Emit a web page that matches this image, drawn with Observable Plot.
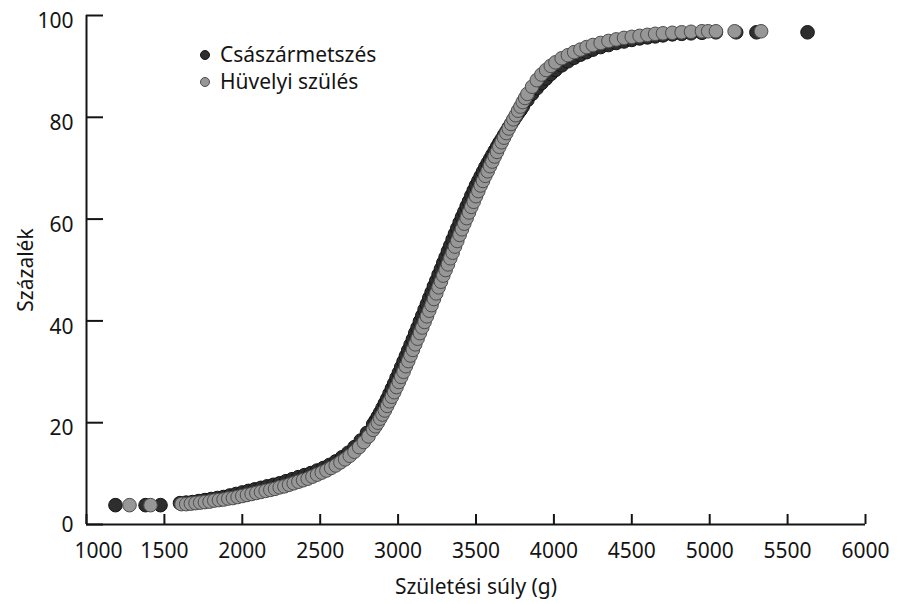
<!DOCTYPE html>
<html><head><meta charset="utf-8">
<script src="https://cdn.jsdelivr.net/npm/d3@7"></script>
<script src="https://cdn.jsdelivr.net/npm/@observablehq/plot@0.6"></script>
<style>
body{margin:0;background:#fff;}
#wrap{position:relative;width:907px;height:604px;font-family:"Noto Sans",sans-serif;}
#wrap svg{display:block;}
#legend{position:absolute;left:200px;top:41px;font-size:21px;line-height:27px;color:#141414;}
.row{display:flex;align-items:center;white-space:nowrap;}
.sw{width:10px;height:10px;border-radius:50%;margin-right:10px;box-sizing:border-box;}
</style></head>
<body><div id="wrap"><div id="legend"></div></div>
<script>
const seriesNames = ["Császármetszés", "Hüvelyi szülés"];
const xTicks = [1000,1500,2000,2500,3000,3500,4000,4500,5000,5500,6000];
const yTicks = [0,20,40,60,80,100];

// Császármetszés (dark)
const csWeight = [1186,1379,1475,1600,1640,1680,1720,1760,1800,1840,1880,1920,1960,2000,2040,2080,2120,2160,2200,2240,2280,2320,2360,2400,2440,2480,2520,2560,2600,2640,2680,2720,2760,2800,
2840,2855,2870,2885,2900,2915,2930,2945,2960,2975,2990,3005,3020,3035,3050,3065,3080,3095,3110,3125,3140,3155,3170,3185,3200,3215,3230,3245,3260,3275,3290,3305,3320,3335,3350,3365,3380,3395,3410,3425,3440,3455,3470,3485,3500,3515,3530,3545,3560,3575,3590,3605,3620,3635,3650,3665,3680,3695,3710,3725,3740,3755,3770,3785,3800,
3830,3860,3890,3920,3950,3980,4010,4050,4090,4130,4170,4210,4250,4300,4350,4400,4450,4500,4550,4600,4650,4700,4760,4820,4880,4950,5040,5170,5300,5628];
const csPercent = [3.8,3.8,3.8,4.2,4.3,4.4,4.6,4.8,5.0,5.2,5.4,5.7,6.0,6.3,6.6,6.9,7.2,7.5,7.8,8.1,8.5,8.9,9.3,9.7,10.1,10.6,11.1,11.7,12.4,13.2,14.1,15.2,16.5,18.0,
19.7,20.4,21.2,22.0,22.9,23.8,24.7,25.7,26.7,27.7,28.8,29.8,30.9,32.0,33.1,34.2,35.3,36.4,37.6,38.7,39.9,41.0,42.2,43.3,44.5,45.6,46.8,47.9,49.1,50.2,51.4,52.5,53.7,54.8,56.0,57.1,58.2,59.3,60.4,61.4,62.5,63.5,64.6,65.6,66.6,67.5,68.4,69.3,70.2,71.0,71.8,72.6,73.4,74.2,75.0,75.7,76.5,77.2,78.0,78.7,79.4,80.1,80.8,81.4,82.1,
83.4,84.6,85.7,86.7,87.6,88.5,89.3,90.2,91.0,91.7,92.3,92.8,93.3,93.8,94.2,94.6,94.9,95.2,95.5,95.7,95.9,96.1,96.3,96.4,96.5,96.6,96.7,96.7,96.7,96.7];

// Hüvelyi szülés (gray)
const vgWeight = [1276,1411,1610,1640,1670,1700,1730,1760,1790,1820,1850,1880,1910,1940,1970,2000,2030,2060,2090,2120,2150,2180,2210,2240,2270,2300,2330,2360,2390,2420,2450,2480,2510,2540,2570,2600,2630,2660,2690,2720,2750,2780,2810,
2840,2855,2870,2885,2900,2915,2930,2945,2960,2975,2990,3005,3020,3035,3050,3065,3080,3095,3110,3125,3140,3155,3170,3185,3200,3215,3230,3245,3260,3275,3290,3305,3320,3335,3350,3365,3380,3395,3410,3425,3440,3455,3470,3485,3500,3515,3530,3545,3560,3575,3590,3605,3620,3635,3650,3665,3680,3695,3710,3725,3740,3755,3770,3785,3800,3815,3830,
3860,3890,3920,3950,3980,4010,4050,4090,4130,4170,4210,4250,4300,4350,4400,4450,4500,4550,4600,4650,4700,4760,4820,4880,4950,4990,5040,5160,5330];
const vgPercent = [3.8,3.8,4.0,4.0,4.1,4.2,4.3,4.4,4.5,4.7,4.8,4.9,5.1,5.2,5.4,5.6,5.8,6.0,6.2,6.4,6.6,6.8,7.0,7.3,7.5,7.8,8.1,8.4,8.7,9.0,9.4,9.8,10.2,10.6,11.1,11.6,12.2,12.8,13.5,14.3,15.2,16.2,17.3,
18.6,19.3,20.0,20.8,21.6,22.4,23.3,24.2,25.1,26.0,27.0,28.0,29.0,30.0,31.1,32.1,33.2,34.3,35.4,36.5,37.6,38.7,39.8,40.9,42.0,43.1,44.3,45.4,46.6,47.7,48.9,50.0,51.1,52.3,53.4,54.6,55.7,56.9,58.0,59.1,60.2,61.3,62.4,63.4,64.5,65.5,66.6,67.5,68.5,69.4,70.4,71.3,72.3,73.2,74.2,75.1,76.0,76.9,77.8,78.7,79.6,80.4,81.3,82.1,83.0,83.8,84.6,
86.0,87.3,88.4,89.3,90.1,90.8,91.6,92.2,92.8,93.3,93.8,94.2,94.6,95.0,95.3,95.6,95.8,96.0,96.2,96.4,96.5,96.6,96.7,96.8,96.9,96.9,96.9,96.9,96.9];

const csData = csWeight.map((w, i) => ({w, p: csPercent[i]})).filter(d => d.p != null);
const vgData = vgWeight.map((w, i) => ({w, p: vgPercent[i]})).filter(d => d.p != null);

const darkFill = "#2e2e2e", darkStroke = "#151515";
const grayFill = "#979797", grayStroke = "#4d4d4d";
const ink = "#141414";

const plot = Plot.plot({
  width: 907, height: 604,
  marginLeft: 86, marginRight: 42, marginTop: 15, marginBottom: 80,
  style: {fontFamily: '"Noto Sans", sans-serif', fontSize: "21px", color: ink, background: "#fff"},
  x: {domain: [xTicks[0], xTicks[xTicks.length - 1]]},
  y: {domain: [yTicks[0], yTicks[yTicks.length - 1]]},
  marks: [
    Plot.dot(csData, {x: "w", y: "p", r: 6.8, fill: darkFill, stroke: darkStroke, strokeWidth: 1}),
    Plot.dot(vgData, {x: "w", y: "p", r: 6.8, fill: grayFill, stroke: grayStroke, strokeWidth: 1}),
    Plot.ruleX([xTicks[0]], {stroke: ink, strokeWidth: 2}),
    Plot.ruleY([yTicks[0]], {stroke: ink, strokeWidth: 2}),
    Plot.axisX(xTicks, {tickSize: -10, fill: "none", stroke: ink, strokeWidth: 2, label: null}),
    Plot.axisX(xTicks.slice(1), {tickSize: 0, tickPadding: 19, tickFormat: d => String(d), fill: ink,
      label: "Születési súly (g)", labelAnchor: "center", labelOffset: 69, labelArrow: "none"}),
    Plot.axisX(xTicks.slice(0, 1), {tickSize: 0, tickPadding: 19, dx: 12, tickFormat: d => String(d), fill: ink, label: null}),
    Plot.axisY(yTicks, {tickSize: -17, fill: "none", stroke: ink, strokeWidth: 2, label: null}),
    Plot.axisY(yTicks.slice(1), {tickSize: 0, tickPadding: 13, dy: 6, tickFormat: d => String(d), fill: ink,
      label: "Százalék", labelAnchor: "center", labelOffset: 68, labelArrow: "none"}),
    Plot.axisY(yTicks.slice(0, 1), {tickSize: 0, tickPadding: 13, dy: 1, tickFormat: d => String(d), fill: ink, label: null})
  ]
});
const wrap = document.getElementById("wrap");
wrap.insertBefore(plot, wrap.firstChild);

const legend = document.getElementById("legend");
[[seriesNames[0], darkFill, darkStroke], [seriesNames[1], grayFill, grayStroke]].forEach(([name, f, s]) => {
  const row = document.createElement("div");
  row.className = "row";
  const sw = document.createElement("span");
  sw.className = "sw";
  sw.style.background = f;
  sw.style.border = `1px solid ${s}`;
  const t = document.createElement("span");
  t.textContent = name;
  row.appendChild(sw); row.appendChild(t);
  legend.appendChild(row);
});
</script>
</body></html>
